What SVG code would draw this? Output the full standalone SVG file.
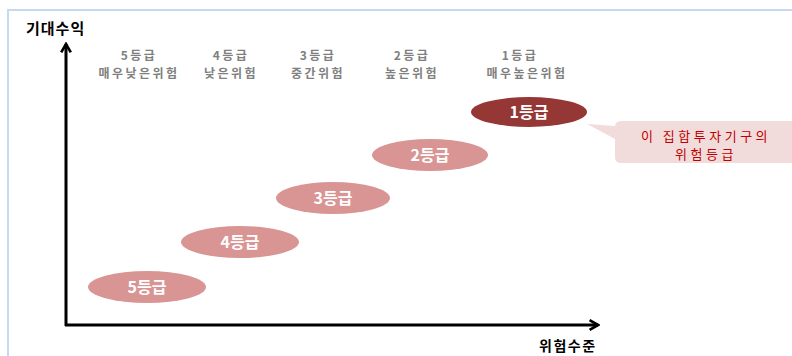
<svg xmlns="http://www.w3.org/2000/svg" width="792" height="356" viewBox="0 0 792 356">
<style>
.frame{stroke:#C6D9F0;stroke-width:2;fill:none}
.axis{stroke:#000;stroke-width:3;fill:none}
.hdr{font-family:"Noto Sans CJK KR","Noto Sans",sans-serif;font-weight:bold;font-size:12px;fill:#808080;text-anchor:middle;letter-spacing:2.5px}
.ax{font-family:"Noto Sans CJK KR","Noto Sans",sans-serif;font-weight:bold;font-size:15px;fill:#000;letter-spacing:1px}
.axb{font-family:"Noto Sans CJK KR","Noto Sans",sans-serif;font-weight:bold;font-size:14px;fill:#000;letter-spacing:1.5px}
.lvl{font-family:"Noto Sans CJK KR","Noto Sans",sans-serif;font-weight:bold;font-size:16px;fill:#fff;text-anchor:middle}
.light{fill:#D99594}
.dark{fill:#953735}
.call{fill:#F2DCDB}
.ctext{font-family:"Noto Sans CJK KR","Noto Sans",sans-serif;font-size:13px;fill:#C00000;text-anchor:middle;letter-spacing:3.5px}
</style>
<defs>
<marker id="arr" viewBox="0 0 10 10" refX="8" refY="5" markerWidth="4" markerHeight="4" orient="auto" markerUnits="strokeWidth">
<polyline points="1,1 8,5 1,9" fill="none" stroke="#000" stroke-width="2.2"/>
</marker>
</defs>
<path class="frame" d="M8,356 V10 H792"/>
<g id="connectors">
<line class="axis" x1="66" y1="326" x2="66" y2="44" marker-end="url(#arr)"/>
<line class="axis" x1="65" y1="325" x2="598" y2="325" marker-end="url(#arr)"/>
</g>
<g id="y-label"><text class="ax" x="26" y="34">기대수익</text></g>
<g id="x-label"><text class="axb" x="539" y="351">위험수준</text></g>
<g id="header5"><text class="hdr" x="139" y="60">5등급</text><text class="hdr" x="139" y="78">매우낮은위험</text></g>
<g id="header4"><text class="hdr" x="231" y="60">4등급</text><text class="hdr" x="231" y="78">낮은위험</text></g>
<g id="header3"><text class="hdr" x="318" y="60">3등급</text><text class="hdr" x="318" y="78">중간위험</text></g>
<g id="header2"><text class="hdr" x="412" y="60">2등급</text><text class="hdr" x="412" y="78">높은위험</text></g>
<g id="header1"><text class="hdr" x="520" y="60">1등급</text><text class="hdr" x="527" y="78">매우높은위험</text></g>
<g id="level5"><ellipse class="light" cx="147" cy="287" rx="59" ry="16"/><text class="lvl" x="147" y="293">5등급</text></g>
<g id="level4"><ellipse class="light" cx="240" cy="242" rx="59" ry="16"/><text class="lvl" x="240" y="248">4등급</text></g>
<g id="level3"><ellipse class="light" cx="333" cy="198" rx="57" ry="16"/><text class="lvl" x="333" y="204">3등급</text></g>
<g id="level2"><ellipse class="light" cx="430" cy="155" rx="58" ry="16"/><text class="lvl" x="430" y="161">2등급</text></g>
<g id="level1"><ellipse class="dark" cx="529" cy="112" rx="58" ry="15"/><text class="lvl" x="529" y="118">1등급</text></g>
<g id="callout">
<path class="call" d="M621,121 H792 V163 H621 Q615,163 615,157 V139 L587,124 L615,126 V127 Q615,121 621,121 Z"/>
<text class="ctext" x="706" y="141">이 집합투자기구의</text>
<text class="ctext" x="706" y="159">위험등급</text>
</g>
</svg>
